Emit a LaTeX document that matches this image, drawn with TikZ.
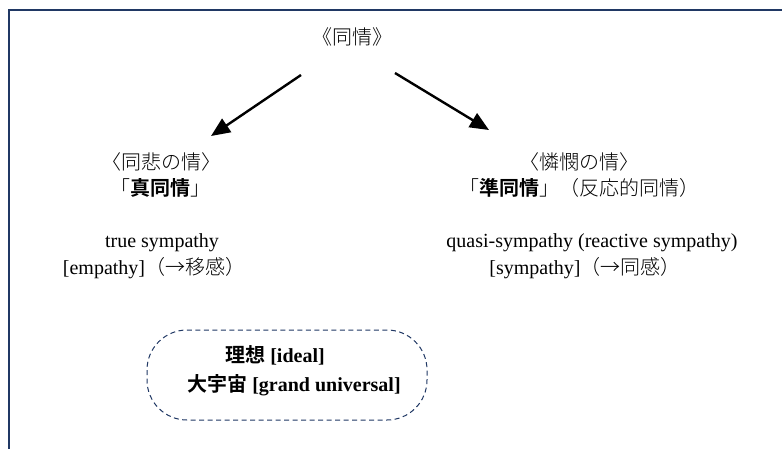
\documentclass[tikz,border=0pt]{standalone}
\usepackage{fontspec}
\setmainfont{Liberation Serif}
\newfontfamily\cj[BoldFont={Noto Sans CJK JP Bold}]{Noto Sans CJK JP Light}
\usetikzlibrary{arrows.meta}
\definecolor{navy}{HTML}{203864}
\begin{document}
\begin{tikzpicture}[x=1pt,y=-1pt,
  txt/.style={inner sep=0pt,anchor=center,font=\fontsize{20}{24}\selectfont},
  btxt/.style={txt,font=\fontsize{20}{24}\selectfont\bfseries},
  arr/.style={line width=2.4pt,-{Triangle[length=19pt,width=16pt]}},
  cloud/.style={draw=navy,dash pattern=on 5pt off 3.5pt,line width=1pt,rounded corners=40pt}]
\useasboundingbox (0,0) rectangle (782,448);
\fill[white] (0,0) rectangle (782,448);
\draw[navy,line width=2pt] (9,449) -- (9,10) -- (783,10);
% top
\node[txt] (top) at (352,37) {\cj 《同情》};
\coordinate (la) at (301,75);
\coordinate (lb) at (211,136);
\coordinate (ra) at (395,73);
\coordinate (rb) at (489,130);
\draw[arr] (la) -- (lb);
\draw[arr] (ra) -- (rb);
% left column
\node[txt] (l1) at (161,162) {\cj 〈同悲の情〉};
\node[txt] (l2) at (160,188) {\cj 「\textbf{真同情}」};
\node[txt] (l3) at (162,243) {true sympathy};
\node[txt] (l4) at (154,268) {[empathy]{\cj （→移感）}};
% right column
\node[txt] (r1) at (579,162) {\cj 〈憐憫の情〉};
\node[txt] (r2) at (579,188) {\cj 「\textbf{準同情}」（反応的同情）};
\node[txt] (r3) at (592,243) {quasi-sympathy (reactive sympathy)};
\node[txt] (r4) at (585,268) {[sympathy]{\cj （→同感）}};
% ideal box
\draw[cloud] (147,330) rectangle (427,420);
\node[btxt] (b1) at (275,355) {{\cj 理想} [ideal]};
\node[btxt] (b2) at (294,385) {{\cj 大宇宙} [grand universal]};
\end{tikzpicture}
\end{document}
